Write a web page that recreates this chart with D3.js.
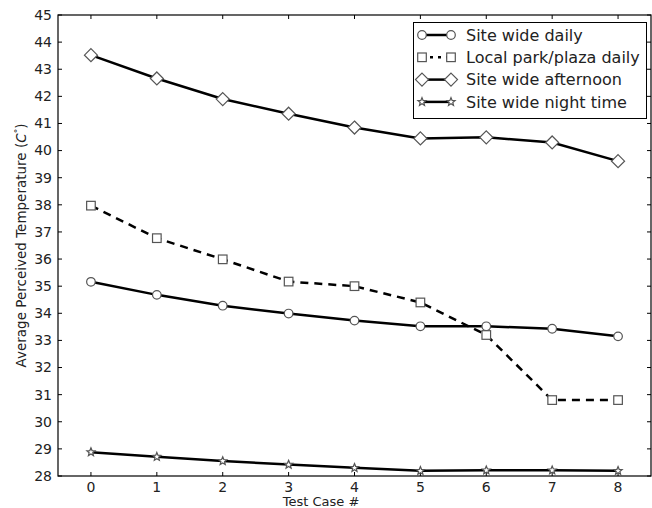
<!DOCTYPE html>
<html><head><meta charset="utf-8">
<script src="https://cdn.jsdelivr.net/npm/d3@7"></script>
<style>body{margin:0;background:#fff;} svg{display:block;font-family:"DejaVu Sans",sans-serif;}</style>
</head><body>
<svg id="c" width="652" height="508"></svg>
<script>
const testCases = [0,1,2,3,4,5,6,7,8];
const siteWideDaily = [35.16,34.68,34.28,33.99,33.73,33.52,33.52,33.43,33.15];
const localParkDaily = [37.97,36.77,35.99,35.17,35.0,34.4,33.2,30.8,30.8];
const siteWideAfternoon = [43.52,42.66,41.9,41.36,40.85,40.45,40.49,40.3,39.61];
const siteWideNight = [28.88,28.71,28.55,28.42,28.3,28.19,28.21,28.21,28.19];
const yTicks = [28,29,30,31,32,33,34,35,36,37,38,39,40,41,42,43,44,45];
const seriesNames = ["Site wide daily","Local park/plaza daily","Site wide afternoon","Site wide night time"];

const svg = d3.select("#c");
const L=58, R=651, T=15, B=476;
const x = d3.scaleLinear().domain([-0.5,8.5]).range([L,R]);
const y = d3.scaleLinear().domain([28,45]).range([B,T]);

const series = [
  {name:seriesNames[0], vals:siteWideDaily, marker:"circle", dash:null},
  {name:seriesNames[1], vals:localParkDaily, marker:"square", dash:"8,6"},
  {name:seriesNames[2], vals:siteWideAfternoon, marker:"diamond", dash:null},
  {name:seriesNames[3], vals:siteWideNight, marker:"star", dash:null}
];

const tl=4;
const g = svg.append("g");
yTicks.forEach(v=>{
  g.append("line").attr("x1",L).attr("x2",L+tl).attr("y1",y(v)).attr("y2",y(v)).attr("stroke","#000");
  g.append("line").attr("x1",R).attr("x2",R-tl).attr("y1",y(v)).attr("y2",y(v)).attr("stroke","#000");
  g.append("text").attr("x",L-6).attr("y",y(v)).attr("dy","0.35em").attr("text-anchor","end")
   .attr("font-size",14).attr("fill","#222").text(v);
});
testCases.forEach(v=>{
  g.append("line").attr("x1",x(v)).attr("x2",x(v)).attr("y1",B).attr("y2",B-tl).attr("stroke","#000");
  g.append("line").attr("x1",x(v)).attr("x2",x(v)).attr("y1",T).attr("y2",T+tl).attr("stroke","#000");
  g.append("text").attr("x",x(v)).attr("y",487).attr("dy","0.35em").attr("text-anchor","middle")
   .attr("font-size",14).attr("fill","#222").text(v);
});

const line = d3.line().x((d,i)=>x(testCases[i])).y(d=>y(d));
function drawMarker(sel, type, cx, cy){
  const st = {fill:"#fff", stroke:"#555", "stroke-width":1.2};
  let m;
  if(type==="circle") m = sel.append("circle").attr("cx",cx).attr("cy",cy).attr("r",4.3);
  else if(type==="square") m = sel.append("rect").attr("x",cx-4.3).attr("y",cy-4.3).attr("width",8.6).attr("height",8.6);
  else if(type==="diamond") m = sel.append("path").attr("d",`M${cx},${cy-6.5}L${cx+6.5},${cy}L${cx},${cy+6.5}L${cx-6.5},${cy}Z`);
  else {
    const pts=[]; for(let k=0;k<10;k++){const r=k%2?1.9:4.3; const a=-Math.PI/2+k*Math.PI/5; pts.push([cx+r*Math.cos(a),cy+r*Math.sin(a)]);}
    m = sel.append("path").attr("d","M"+pts.map(p=>p.join(",")).join("L")+"Z");
  }
  Object.entries(st).forEach(([k,v])=>m.attr(k,v));
}
series.forEach(s=>{
  svg.append("path").datum(s.vals).attr("d",line).attr("fill","none").attr("stroke","#000")
    .attr("stroke-width",2.5).attr("stroke-dasharray",s.dash);
  const mg = svg.append("g");
  s.vals.forEach((v,i)=>drawMarker(mg,s.marker,x(testCases[i]),y(v)));
});

svg.append("rect").attr("x",L).attr("y",T).attr("width",R-L).attr("height",B-T)
  .attr("fill","none").attr("stroke","#000").attr("stroke-width",1.2);

const lg = svg.append("g");
lg.append("rect").attr("x",413.5).attr("y",22.5).attr("width",233).attr("height",96)
  .attr("fill","#fff").attr("stroke","#000").attr("stroke-width",1);
series.forEach((s,i)=>{
  const cy = 35+i*22.3;
  lg.append("line").attr("x1",422).attr("x2",451).attr("y1",cy).attr("y2",cy)
    .attr("stroke","#000").attr("stroke-width",2.5).attr("stroke-dasharray",s.dash?"3,5":null);
  drawMarker(lg,s.marker,422,cy); drawMarker(lg,s.marker,451,cy);
  lg.append("text").attr("x",466).attr("y",cy).attr("dy","0.35em").attr("font-size",16)
    .attr("fill","#222").text(s.name);
});

svg.append("text").attr("x",321).attr("y",501).attr("dy","0.35em").attr("text-anchor","middle")
  .attr("font-size",13).attr("fill","#222").text("Test Case #");
const yl = svg.append("text").attr("transform",`translate(26,${(T+B)/2}) rotate(-90)`)
  .attr("text-anchor","middle").attr("font-size",13.5).attr("fill","#222");
yl.append("tspan").text("Average Perceived Temperature (");
yl.append("tspan").attr("font-style","italic").text("C");
yl.append("tspan").attr("dy",-5).attr("font-size",9).text("°");
yl.append("tspan").attr("dy",5).text(")");
</script>
</body></html>
